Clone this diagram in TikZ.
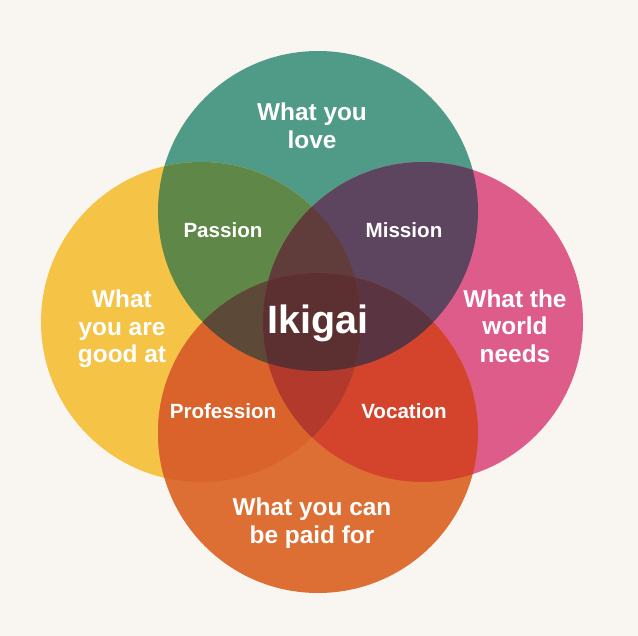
\documentclass[tikz,border=0pt]{standalone}
\usepackage{fontspec}
\setmainfont{Liberation Sans}
\definecolor{bg}{HTML}{F9F6F1}
\definecolor{cT}{HTML}{509B88}
\definecolor{cY}{HTML}{F5C346}
\definecolor{cP}{HTML}{DE5C8A}
\definecolor{cO}{HTML}{DD6F34}
\definecolor{cTY}{HTML}{5E8748}
\definecolor{cTP}{HTML}{5E455F}
\definecolor{cPO}{HTML}{D4442D}
\definecolor{cYO}{HTML}{D9632A}
\definecolor{cYP}{HTML}{7A3A35}
\definecolor{cTO}{HTML}{6A4435}
\definecolor{cTYP}{HTML}{603C3A}
\definecolor{cTYO}{HTML}{5D4937}
\definecolor{cTPO}{HTML}{5B3442}
\definecolor{cYPO}{HTML}{B3392C}
\definecolor{cAll}{HTML}{5C3031}
\tikzset{
  lbl/.style={text=white, font=\bfseries\fontsize{24.4}{27.5}\selectfont, align=center, inner sep=0pt},
  sublbl/.style={text=white, font=\bfseries\fontsize{20.6}{24}\selectfont, inner sep=0pt},
  mainlbl/.style={text=white, font=\bfseries\fontsize{39.5}{44}\selectfont, inner sep=0pt},
}
\def\R{160pt}
\begin{document}
\begin{tikzpicture}[x=1pt,y=-1pt]
\fill[bg] (0,0) rectangle (638,636);
\useasboundingbox (0,0) rectangle (638,636);
\coordinate (T) at (318,211);
\coordinate (B) at (318,433);
\coordinate (L) at (201,322);
\coordinate (Rt) at (423,322);
% single circles
\fill[cT] (T) circle[radius=\R];
\fill[cY] (L) circle[radius=\R];
\fill[cP] (Rt) circle[radius=\R];
\fill[cO] (B) circle[radius=\R];
% pairs
\begin{scope}\clip (T) circle[radius=\R]; \fill[cTY] (L) circle[radius=\R]; \end{scope}
\begin{scope}\clip (T) circle[radius=\R]; \fill[cTP] (Rt) circle[radius=\R]; \end{scope}
\begin{scope}\clip (B) circle[radius=\R]; \fill[cPO] (Rt) circle[radius=\R]; \end{scope}
\begin{scope}\clip (B) circle[radius=\R]; \fill[cYO] (L) circle[radius=\R]; \end{scope}
\begin{scope}\clip (L) circle[radius=\R]; \fill[cYP] (Rt) circle[radius=\R]; \end{scope}
\begin{scope}\clip (T) circle[radius=\R]; \fill[cTO] (B) circle[radius=\R]; \end{scope}
% triples
\begin{scope}\clip (T) circle[radius=\R]; \clip (L) circle[radius=\R]; \fill[cTYP] (Rt) circle[radius=\R]; \end{scope}
\begin{scope}\clip (T) circle[radius=\R]; \clip (L) circle[radius=\R]; \fill[cTYO] (B) circle[radius=\R]; \end{scope}
\begin{scope}\clip (T) circle[radius=\R]; \clip (Rt) circle[radius=\R]; \fill[cTPO] (B) circle[radius=\R]; \end{scope}
\begin{scope}\clip (L) circle[radius=\R]; \clip (Rt) circle[radius=\R]; \fill[cYPO] (B) circle[radius=\R]; \end{scope}
% all four
\begin{scope}\clip (T) circle[radius=\R]; \clip (L) circle[radius=\R]; \clip (Rt) circle[radius=\R]; \fill[cAll] (B) circle[radius=\R]; \end{scope}
% labels
\node[lbl] (love) at (312,126) {What you\\love};
\node[lbl] (good) at (122,329) {What\\you are\\good at};
\node[lbl] (world) at (515,326) {What the\\world\\needs};
\node[lbl] (paid) at (312,523) {What you can\\be paid for};
\node[sublbl] (passion) at (223,230) {Passion};
\node[sublbl] (mission) at (404,230) {Mission};
\node[sublbl] (profession) at (223,411) {Profession};
\node[sublbl] (vocation) at (404,411) {Vocation};
\node[mainlbl] (ikigai) at (318,323) {Ikigai};
\end{tikzpicture}
\end{document}
